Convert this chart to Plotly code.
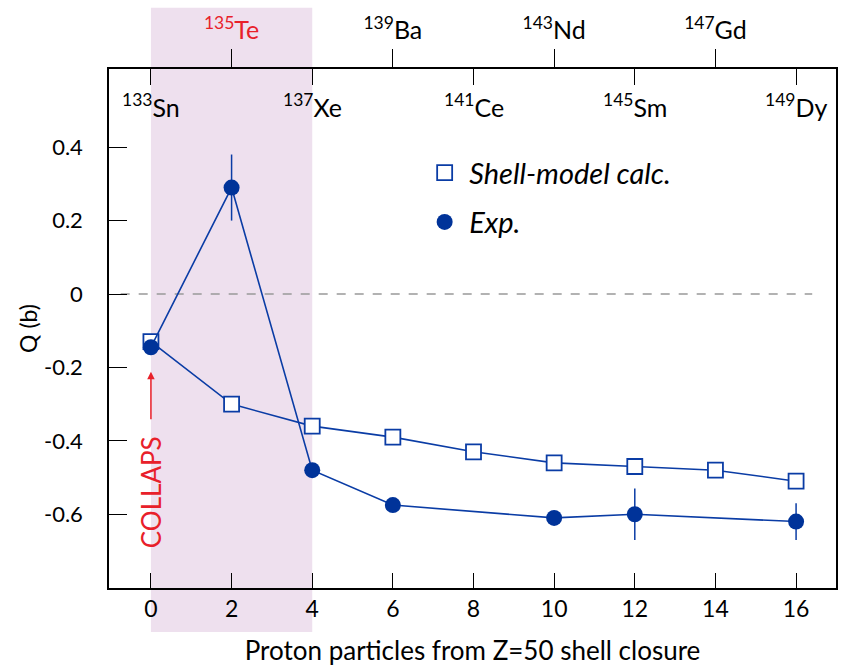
import plotly.graph_objects as go

# Proton particles beyond Z=50
shell_x = [0, 2, 4, 6, 8, 10, 12, 14, 16]
shell_q = [-0.13, -0.30, -0.36, -0.39, -0.43, -0.46, -0.47, -0.48, -0.51]

exp_x = [0, 2, 4, 6, 10, 12, 16]
exp_q = [-0.145, 0.29, -0.48, -0.575, -0.61, -0.60, -0.62]
exp_err = [0.0, 0.09, 0.0, 0.0, 0.0, 0.07, 0.05]

# Isotope labels on the top axis
iso_low_vals = [0, 4, 8, 12, 16]
iso_low_text = ["<sup>133</sup>Sn", "<sup>137</sup>Xe", "<sup>141</sup>Ce",
                "<sup>145</sup>Sm", "<sup>149</sup>Dy"]
iso_up_vals = [2, 6, 10, 14]
iso_up_text = ["<span style='color:#e8202a'><sup>135</sup>Te</span>",
               "<sup>139</sup>Ba", "<sup>143</sup>Nd", "<sup>147</sup>Gd"]

x_ticks = [0, 2, 4, 6, 8, 10, 12, 14, 16]
y_ticks = [0.4, 0.2, 0, -0.2, -0.4, -0.6]
y_tick_text = ["0.4", "0.2", "0", "-0.2", "-0.4", "-0.6"]

BLUE = "#0a3ca5"
RED = "#e8202a"
FONT = "Lato"

fig = go.Figure()

fig.add_trace(go.Scatter(
    x=shell_x, y=shell_q, mode="lines+markers",
    line=dict(color=BLUE, width=1.6),
    marker=dict(symbol="square", size=15, color="white",
                line=dict(color=BLUE, width=1.8)),
    showlegend=False,
))
fig.add_trace(go.Scatter(
    x=exp_x, y=exp_q, mode="lines+markers",
    line=dict(color=BLUE, width=1.6),
    marker=dict(symbol="circle", size=16, color="#003399"),
    error_y=dict(type="data", array=exp_err, visible=True,
                 color=BLUE, thickness=1.5, width=0),
    showlegend=False,
))

# Legend entries (marker only)
fig.add_trace(go.Scatter(
    x=[None], y=[None], mode="markers", name="Shell-model calc.",
    marker=dict(symbol="square", size=15, color="white",
                line=dict(color=BLUE, width=1.8)),
    legend="legend",
))
fig.add_trace(go.Scatter(
    x=[None], y=[None], mode="markers", name="Exp.",
    marker=dict(symbol="circle", size=16, color="#003399"),
    legend="legend2",
))

# Hidden traces anchoring the two top axes
fig.add_trace(go.Scatter(x=[None], y=[None], xaxis="x2", showlegend=False))
fig.add_trace(go.Scatter(x=[None], y=[None], xaxis="x3", showlegend=False))

xrange = [-1.04, 16.99]

fig.update_layout(
    width=841, height=667,
    margin=dict(l=109, r=3, t=69, b=79),
    paper_bgcolor="white", plot_bgcolor="rgba(0,0,0,0)",
    font=dict(family=FONT, size=22, color="black"),
    xaxis=dict(
        range=xrange, tickvals=x_ticks, ticks="inside", ticklen=15,
        tickwidth=1.2, tickcolor="black", showline=True, linecolor="black",
        linewidth=1.5, showgrid=False, zeroline=False,
        title=dict(text="Proton particles from Z=50 shell closure",
                   font=dict(size=26), standoff=20),
        tickfont=dict(size=23),
    ),
    xaxis2=dict(
        range=xrange, overlaying="x", side="top", tickvals=iso_up_vals,
        ticktext=iso_up_text, ticks="outside", ticklen=18, tickwidth=1.2,
        tickcolor="black", showline=True, linecolor="black", linewidth=1.5,
        showgrid=False, zeroline=False, tickfont=dict(size=25),
    ),
    xaxis3=dict(
        range=xrange, overlaying="x", side="top", tickvals=iso_low_vals,
        ticks="inside", ticklen=16, tickwidth=1.2, tickcolor="black",
        showticklabels=False, showline=False, showgrid=False, zeroline=False,
    ),
    yaxis=dict(
        range=[-0.801, 0.613], tickvals=y_ticks, ticktext=y_tick_text,
        ticks="inside", ticklen=18, tickwidth=1.2, tickcolor="black",
        showline=True, linecolor="black", linewidth=1.5, mirror=True,
        showgrid=False, zeroline=False, ticklabelstandoff=20,
        title=dict(text="Q (b)", font=dict(size=23), standoff=0),
        tickfont=dict(size=22),
    ),
    legend=dict(x=0.428, y=0.80, xanchor="left", yanchor="middle",
                bgcolor="rgba(0,0,0,0)", itemwidth=39,
                font=dict(family=FONT, size=29, style="italic")),
    legend2=dict(x=0.428, y=0.705, xanchor="left", yanchor="middle",
                 bgcolor="rgba(0,0,0,0)", itemwidth=39,
                 font=dict(family=FONT, size=29, style="italic")),
)

# Isotope names just inside the top axis
for xv, label in zip(iso_low_vals, iso_low_text):
    fig.add_annotation(x=xv, y=0.93, xref="x", yref="paper", text=label,
                       showarrow=False, xanchor="center", yanchor="middle",
                       font=dict(size=25, color="black"))

# Shaded region covering 0-4 protons
fig.add_shape(type="rect", xref="x", yref="paper", x0=0, x1=4,
              y0=-0.085, y1=1.118, fillcolor="#eee0ee",
              line=dict(width=0), layer="below")

# Zero reference line
fig.add_shape(type="line", xref="x", yref="y", x0=-0.75, x1=16.4,
              y0=0, y1=0, line=dict(color="#999999", width=1.5, dash="dash"),
              layer="below")

# COLLAPS marker
fig.add_annotation(x=0, y=-0.212, ax=0, ay=-0.345, xref="x", yref="y",
                   axref="x", ayref="y", text="", showarrow=True,
                   arrowhead=2, arrowsize=1, arrowwidth=1.5, arrowcolor=RED)
fig.add_annotation(x=0, y=-0.54, xref="x", yref="y", text="COLLAPS",
                   textangle=-90, showarrow=False,
                   font=dict(color=RED, size=26))

fig.write_html("out.html")
